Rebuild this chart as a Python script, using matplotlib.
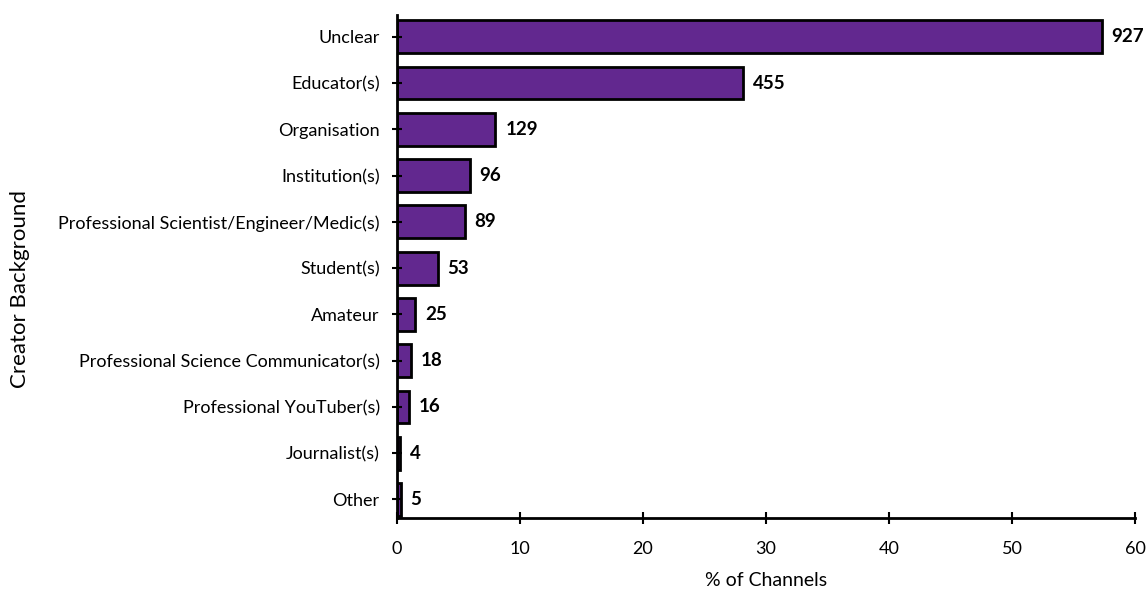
import matplotlib
matplotlib.use("Agg")
import matplotlib.pyplot as plt

categories = ["Unclear", "Educator(s)", "Organisation", "Institution(s)",
              "Professional Scientist/Engineer/Medic(s)", "Student(s)", "Amateur",
              "Professional Science Communicator(s)", "Professional YouTuber(s)",
              "Journalist(s)", "Other"]
counts = [927, 455, 129, 96, 89, 53, 25, 18, 16, 4, 5]
# percentages
percent = [57.3, 28.1, 8.0, 5.9, 5.5, 3.3, 1.5, 1.1, 1.0, 0.25, 0.3]

plt.rcParams["font.family"] = ["Lato", "DejaVu Sans"]

fig = plt.figure(figsize=(11.46, 5.89), dpi=100)
ax = fig.add_axes([397 / 1146, 71 / 589, 738 / 1146, 503 / 589])

y = list(range(len(categories)))
ax.barh(y, percent, height=0.71, color="#62288f", edgecolor="black", linewidth=2)

for yi, p, c in zip(y, percent, counts):
    ax.text(p + 0.8, yi, str(c), va="center", ha="left", fontsize=13.5, fontweight="bold")

ax.set_xlim(0, 60)
ax.set_ylim(10.4, -0.47)
ax.set_yticks(y)
ax.set_yticklabels(categories, fontsize=13)
ax.set_xticks(range(0, 61, 10))
ax.tick_params(axis="x", labelsize=13, direction="inout", length=9, width=1.5, pad=12)
ax.tick_params(axis="y", direction="inout", length=7, width=1.5, pad=9)
for s in ["top", "right"]:
    ax.spines[s].set_visible(False)
for s in ["left", "bottom"]:
    ax.spines[s].set_linewidth(2)
ax.set_xlabel("% of Channels", fontsize=14)
ax.xaxis.set_label_coords(0.5, -(580 - 518) / 503)
ax.set_ylabel("Creator Background", fontsize=16)
ax.yaxis.set_label_coords(-(397 - 20) / 738, (518 - 289) / 503)
ax.yaxis.label.set_va("center")
ax.xaxis.label.set_va("center")

fig.savefig("out.png", dpi=100)
